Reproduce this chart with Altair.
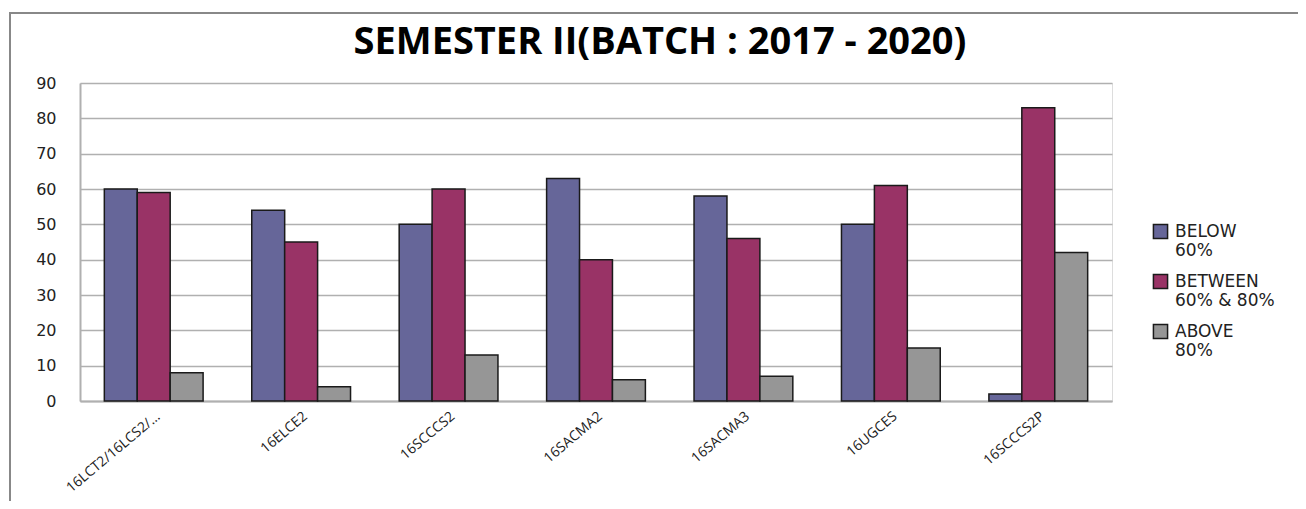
import altair as alt
import pandas as pd

courses = ["16LCT2/16LCS2/…", "16ELCE2", "16SCCCS2", "16SACMA2", "16SACMA3", "16UGCES", "16SCCCS2P"]
series = ["BELOW|60%", "BETWEEN|60% & 80%", "ABOVE|80%"]
below_60 = [60, 54, 50, 63, 58, 50, 2]
between_60_80 = [59, 45, 60, 40, 46, 61, 83]
above_80 = [8, 4, 13, 6, 7, 15, 42]
colors = ["#666699", "#993366", "#969696"]

rows = []
for vals, s in zip([below_60, between_60_80, above_80], series):
    for c, v in zip(courses, vals):
        rows.append({"course": c, "band": s, "value": v})
df = pd.DataFrame(rows)

bars = alt.Chart(df).mark_bar(stroke="#1a1a1a", strokeWidth=1.5).encode(
    x=alt.X("course:N", sort=courses, title=None,
            scale=alt.Scale(paddingInner=0.33, paddingOuter=0.165),
            axis=alt.Axis(labelAngle=-40, labelFont="Open Sans", labelFontSize=14,
                          labelColor="#222", ticks=False, domainColor="#b0b0b0",
                          domainWidth=2, labelPadding=8, labelLimit=300)),
    xOffset=alt.XOffset("band:N", sort=series, scale=alt.Scale(paddingInner=0, paddingOuter=0)),
    y=alt.Y("value:Q", title=None,
            scale=alt.Scale(domain=[0, 90], nice=False),
            axis=alt.Axis(values=list(range(0, 91, 10)), labelFont="DejaVu Sans",
                          labelFontSize=16, labelColor="#222", ticks=False,
                          domainColor="#b0b0b0", domainWidth=2, gridColor="#b0b0b0",
                          gridWidth=1.5, labelPadding=24)),
    color=alt.Color("band:N", sort=series, title=None,
                    scale=alt.Scale(domain=series, range=colors),
                    legend=alt.Legend(orient="none", legendX=1072, legendY=140,
                                      symbolType="square", symbolSize=200,
                                      symbolStrokeColor="#1a1a1a", symbolStrokeWidth=1.5,
                                      labelFont="DejaVu Sans", labelFontSize=17,
                                      labelColor="#222",
                                      labelExpr="split(datum.label, '|')",
                                      labelBaseline="middle", labelOffset=6,
                                      rowPadding=12)),
)

frame = alt.Chart(pd.DataFrame({"a": [0]})).mark_rect(
    fill=None, stroke="#888888", strokeWidth=2
).encode(x=alt.value(-70), x2=alt.value(1300), y=alt.value(-70), y2=alt.value(520))

chart = alt.layer(frame, bars).properties(
    width=1032, height=318,
    title=alt.TitleParams("SEMESTER II(BATCH : 2017  - 2020)", font="Open Sans",
                          fontSize=38, fontWeight="bold", color="#000",
                          anchor="middle", dx=64, frame="group", baseline="alphabetic",
                          offset=-80),
    padding={"left": 72, "top": 75, "right": 186, "bottom": 100},
    autosize=alt.AutoSizeParams(type="none"),
).configure_view(stroke=None).configure(background="white")

chart.save("out.html", embed_options={"renderer": "svg", "actions": False})
